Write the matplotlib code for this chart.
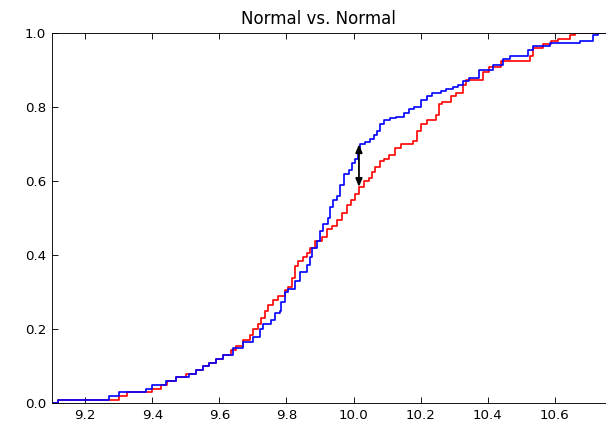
import matplotlib
matplotlib.use('Agg')
import matplotlib.pyplot as plt

red_x = [9.10, 9.12, 9.30, 9.325, 9.40, 9.425, 9.445, 9.47, 9.50, 9.53, 9.55, 9.57, 9.59,
         9.61, 9.635, 9.65, 9.67, 9.69, 9.70, 9.715, 9.725, 9.735, 9.745, 9.76, 9.775,
         9.795, 9.805, 9.815, 9.825, 9.835, 9.85, 9.86, 9.87, 9.885, 9.905, 9.92, 9.935,
         9.95, 9.965, 9.98, 9.993, 10.003, 10.016, 10.03, 10.045, 10.055, 10.065, 10.08,
         10.09, 10.107, 10.122, 10.14, 10.177, 10.19, 10.20, 10.22, 10.245, 10.255, 10.265,
         10.29, 10.305, 10.325, 10.335, 10.385, 10.405, 10.44, 10.525, 10.535, 10.565,
         10.59, 10.61, 10.645, 10.66, 10.80]
red_y = [0.0, 0.01, 0.02, 0.03, 0.04, 0.05, 0.06, 0.07, 0.08, 0.09, 0.10, 0.11, 0.12,
         0.13, 0.145, 0.155, 0.17, 0.185, 0.20, 0.215, 0.23, 0.25, 0.265, 0.28, 0.29,
         0.305, 0.315, 0.34, 0.37, 0.385, 0.395, 0.405, 0.42, 0.44, 0.45, 0.47, 0.48,
         0.495, 0.515, 0.535, 0.55, 0.565, 0.585, 0.60, 0.61, 0.625, 0.64, 0.655,
         0.66, 0.67, 0.69, 0.70, 0.71, 0.735, 0.755, 0.765, 0.78, 0.81, 0.815,
         0.83, 0.84, 0.86, 0.875, 0.895, 0.91, 0.925, 0.94, 0.96, 0.97,
         0.98, 0.985, 0.995, 1.0, 1.0]

blue_x = [9.10, 9.12, 9.27, 9.30, 9.38, 9.40, 9.44, 9.47, 9.51, 9.53, 9.55, 9.57, 9.59,
          9.61, 9.64, 9.67, 9.70, 9.72, 9.73, 9.755, 9.765, 9.78, 9.785, 9.795, 9.805,
          9.825, 9.84, 9.86, 9.87, 9.875, 9.89, 9.90, 9.91, 9.925, 9.93, 9.94, 9.95,
          9.96, 9.97, 9.985, 9.995, 10.005, 10.013, 10.02, 10.035, 10.05, 10.06, 10.07,
          10.08, 10.09, 10.11, 10.125, 10.15, 10.165, 10.18, 10.20, 10.22, 10.235, 10.26,
          10.275, 10.295, 10.31, 10.325, 10.345, 10.375, 10.415, 10.445, 10.465, 10.52,
          10.535, 10.585, 10.675, 10.715, 10.73, 10.80]
blue_y = [0.0, 0.01, 0.02, 0.03, 0.04, 0.05, 0.06, 0.07, 0.08, 0.09, 0.10, 0.11, 0.12,
          0.13, 0.15, 0.165, 0.18, 0.20, 0.215, 0.225, 0.245, 0.25, 0.275, 0.30, 0.31,
          0.33, 0.355, 0.375, 0.395, 0.42, 0.44, 0.465, 0.485, 0.50, 0.53, 0.55, 0.56,
          0.59, 0.62, 0.63, 0.65, 0.66, 0.685, 0.70, 0.705, 0.715, 0.725, 0.735,
          0.755, 0.765, 0.77, 0.775, 0.785, 0.795, 0.80, 0.82, 0.83, 0.84, 0.845,
          0.85, 0.855, 0.86, 0.87, 0.88, 0.90, 0.915, 0.93, 0.94, 0.955,
          0.965, 0.975, 0.98, 0.995, 1.0, 1.0]

# largest gap between the two curves (KS statistic)
ks_x = 10.016
ks_low = 0.585
ks_high = 0.70

fig = plt.figure(figsize=(606 / 80, 427 / 80), dpi=80)
# axes runs a bit past the right edge, like the cropped original
ax = fig.add_axes([0.0853, 0.0555, 0.941, 0.8665])

ax.plot(red_x, red_y, color='r', lw=1.5, drawstyle='steps-post')
ax.plot(blue_x, blue_y, color='b', lw=1.5, drawstyle='steps-post')

ax.annotate('', xy=(ks_x, ks_high), xytext=(ks_x, ks_low),
            arrowprops=dict(arrowstyle='<|-|>,head_length=0.6,head_width=0.25',
                            color='k', lw=1.6, shrinkA=0, shrinkB=0))

ax.set_xlim(9.1, 10.8)
ax.set_ylim(0.0, 1.0)
ax.set_xticks([9.2, 9.4, 9.6, 9.8, 10.0, 10.2, 10.4, 10.6])
ax.set_yticks([0.0, 0.2, 0.4, 0.6, 0.8, 1.0])
ax.tick_params(direction='in', top=True, right=True, length=5, labelsize=12, pad=5)
ax.set_title('Normal vs. Normal', fontsize=15, x=0.467, pad=8)

fig.savefig('out.png', dpi=80)
